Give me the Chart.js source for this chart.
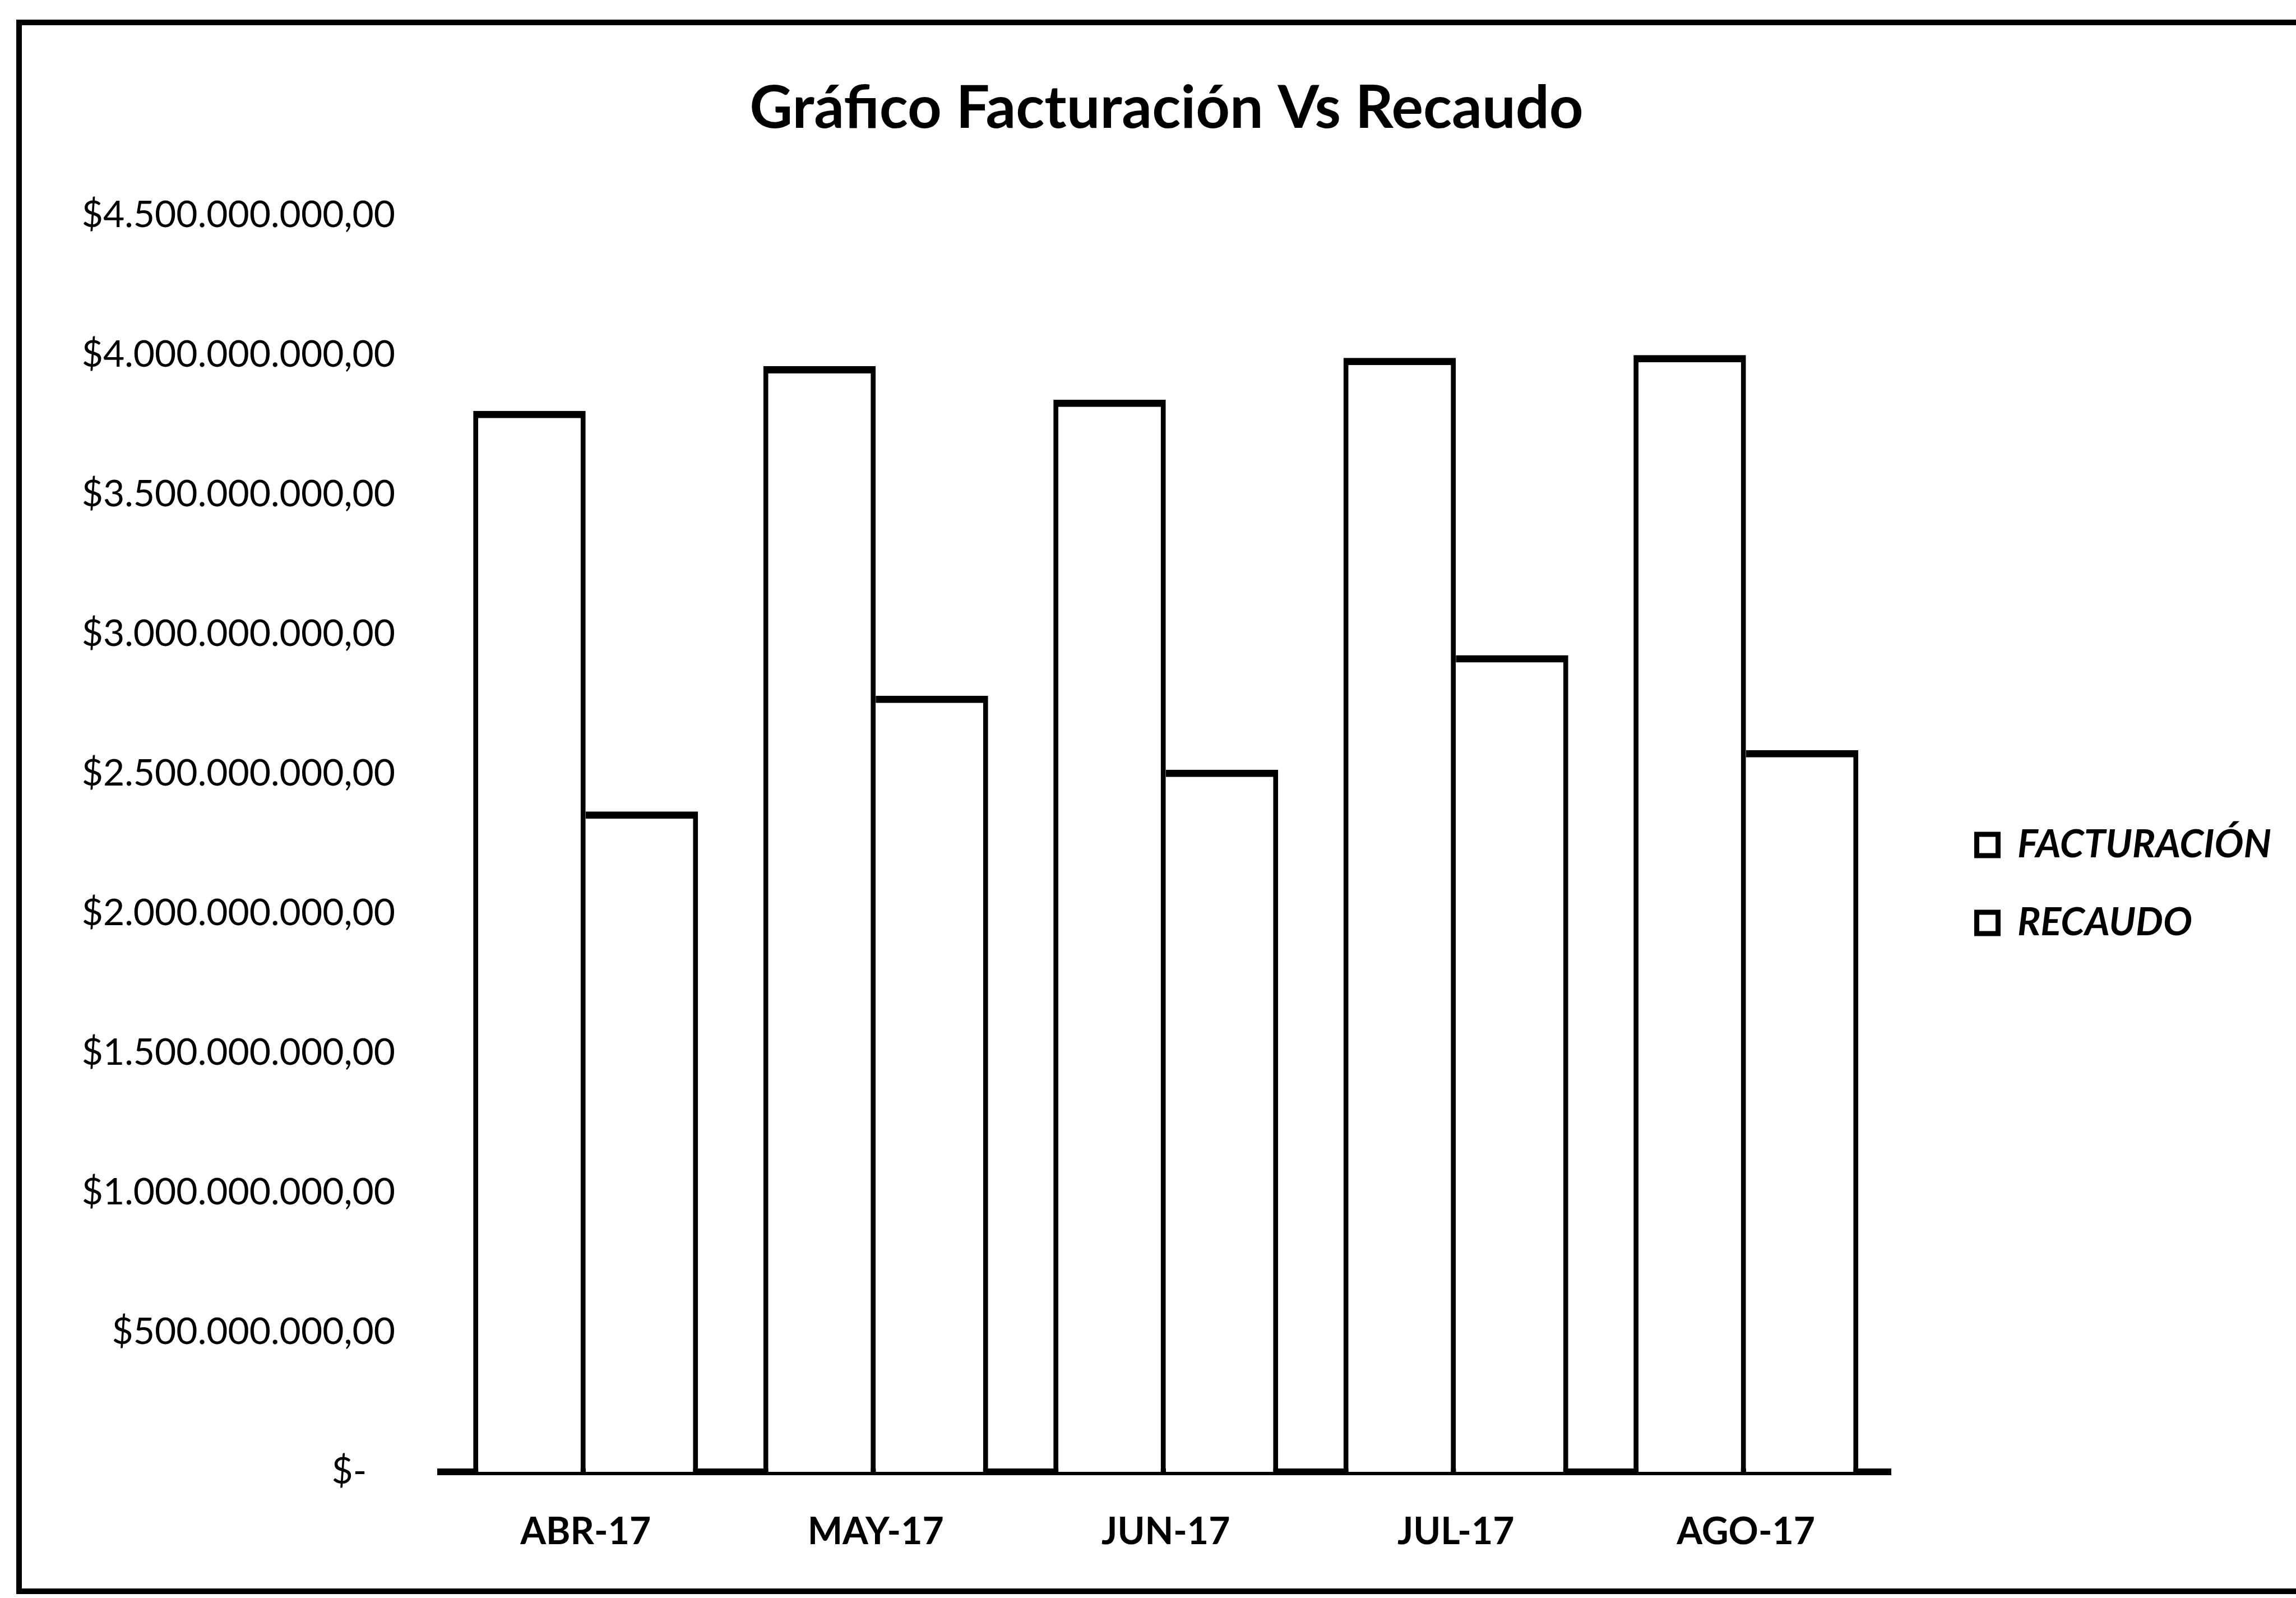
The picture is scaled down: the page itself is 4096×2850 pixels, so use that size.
<!DOCTYPE html>
<html lang="es">
<head>
<meta charset="utf-8">
<title>Gráfico Facturación Vs Recaudo</title>
<script src="https://cdn.jsdelivr.net/npm/chart.js@4.4.1/dist/chart.umd.min.js"></script>
<style>
  html, body { margin: 0; padding: 0; background: #fff; }
  #contenedor { width: 4096px; height: 2850px; position: relative; }
</style>
</head>
<body>
<div id="contenedor"><canvas id="grafico"></canvas></div>
<script>
// Datos
const meses = ["ABR-17", "MAY-17", "JUN-17", "JUL-17", "AGO-17"];
const facturacion = [3800000000, 3960000000, 3840000000, 3990000000, 4000000000];
const recaudo = [2365000000, 2780000000, 2515000000, 2925000000, 2585000000];
const valoresEje = [0, 500000000, 1000000000, 1500000000, 2000000000, 2500000000, 3000000000, 3500000000, 4000000000, 4500000000];

// Formato contable: $4.500.000.000,00 y "$-" para cero
function formatoPesos(valor) {
    if (valor === 0) return "$-   ";
    const miles = Math.round(valor).toString().replace(/\B(?=(\d{3})+(?!\d))/g, ".");
    return "$" + miles + ",00";
}

// Marco exterior (el borde derecho queda fuera de la imagen)
const marco = {
    id: "marco",
    afterDraw(chart) {
        const ctx = chart.ctx;
        ctx.save();
        ctx.strokeStyle = "#000";
        ctx.lineWidth = 10;
        ctx.beginPath();
        ctx.moveTo(chart.width + 20, 40);
        ctx.lineTo(34, 40);
        ctx.lineTo(34, 2838);
        ctx.lineTo(chart.width + 20, 2838);
        ctx.stroke();
        ctx.restore();
    }
};

const data = {
    labels: meses,
    datasets: [{
        label: "FACTURACIÓN",
        data: facturacion,
        backgroundColor: "#fff",
        borderColor: "#000",
        borderWidth: { left: 9, top: 13, right: 9, bottom: 0 },
        borderSkipped: "start"
    }, {
        label: "RECAUDO",
        data: recaudo,
        backgroundColor: "#fff",
        borderColor: "#000",
        borderWidth: { left: 0, top: 13, right: 9, bottom: 0 },
        borderSkipped: "start"
    }]
};

const config = {
    type: "bar",
    data: data,
    options: {
        responsive: true,
        maintainAspectRatio: false,
        devicePixelRatio: 1,
        animation: false,
        categoryPercentage: 0.775,
        barPercentage: 1.0,
        layout: { padding: { left: 100, right: 34, top: 0, bottom: 0 } },
        scales: {
            x: {
                grid: { display: false, drawTicks: false },
                border: { display: true, color: "#000", width: 12 },
                ticks: {
                    color: "#000",
                    padding: 68,
                    font: { family: "Lato", size: 66, weight: "bold" }
                },
                afterFit: (escala) => { escala.height = 225; }
            },
            y: {
                min: 0,
                max: 4500000000,
                grid: { display: false, drawTicks: false },
                border: { display: false },
                afterBuildTicks: (escala) => {
                    escala.ticks = valoresEje.map(v => ({ value: v }));
                },
                ticks: {
                    color: "#000",
                    padding: 81,
                    font: { family: "Lato", size: 66 },
                    callback: (valor) => formatoPesos(valor)
                },
                afterFit: (escala) => { escala.width = 686; }
            },
            // eje vacio para dejar el hueco entre las barras y la leyenda
            hueco: {
                type: "linear",
                position: "right",
                display: true,
                grid: { display: false, drawTicks: false },
                border: { display: false },
                ticks: { display: false },
                afterFit: (escala) => { escala.width = 83; }
            }
        },
        plugins: {
            title: {
                display: true,
                text: "Gráfico Facturación Vs Recaudo",
                color: "#000",
                font: { family: "Lato", size: 106, weight: "bold" },
                padding: { top: 130, bottom: 127 }
            },
            legend: {
                position: "right",
                fullSize: false,
                title: { display: true, text: "", font: { size: 10 }, padding: { top: 0, bottom: 132 } },
                labels: {
                    color: "#000",
                    boxWidth: 38,
                    boxHeight: 38,
                    padding: 70,
                    font: { family: "Lato", size: 69, weight: "bold", style: "italic" },
                    generateLabels: (chart) => {
                        const items = Chart.defaults.plugins.legend.labels.generateLabels(chart);
                        items.forEach(it => {
                            it.fillStyle = "#fff";
                            it.strokeStyle = "#000";
                            it.lineWidth = 9;
                        });
                        return items;
                    }
                }
            },
            tooltip: { enabled: false }
        }
    },
    plugins: [marco]
};

const grafico = new Chart(document.querySelector("#grafico"), config);
</script>
</body>
</html>
